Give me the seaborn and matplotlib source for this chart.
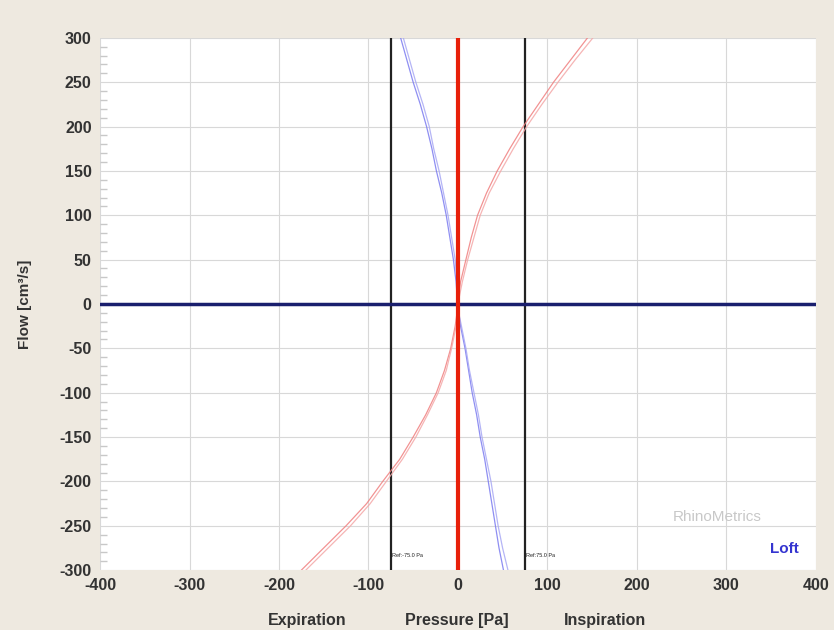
import matplotlib
matplotlib.use("Agg")
import matplotlib.pyplot as plt
import seaborn as sns
import pandas as pd
from matplotlib.ticker import MultipleLocator

sns.set_theme(style="white")
plt.rcParams['font.family'] = ['Liberation Sans', 'DejaVu Sans']

# Flow values (cm3/s)
flow = [-300, -275, -250, -225, -200, -175, -150, -125, -100, -75, -50, -25, -10, 0,
        10, 25, 50, 75, 100, 125, 150, 175, 200, 225, 250, 275, 300]
# Red curve (two traces)
red_a = [-175, -150, -125, -102, -84, -65, -50, -36, -24, -15, -8, -3, -1, 0,
         1, 3, 9, 15, 22, 32, 44, 58, 73, 90, 107, 126, 145]
red_b = [-170, -145, -120, -98, -80, -62, -47, -34, -22, -13, -7, -2, 0, 0,
         2, 5, 11, 18, 25, 35, 48, 62, 77, 94, 112, 131, 151]
# Blue curve (two traces)
blue_a = [51, 46, 42, 38, 34, 30, 25, 21, 16, 12, 8, 3, 1, 0,
          -1, -2, -5, -9, -13, -18, -24, -29, -35, -42, -50, -57, -64]
blue_b = [56, 50, 45, 41, 37, 32, 27, 23, 18, 13, 9, 4, 1, 0,
          0, -1, -3, -7, -11, -16, -21, -27, -32, -39, -47, -54, -61]

ref_lines = [-75, 75]
ref_labels = ["Ref:-75.0 Pa", "Ref:75.0 Pa"]
xticks = [-400, -300, -200, -100, 0, 100, 200, 300, 400]
yticks = list(range(-300, 301, 50))

df = pd.DataFrame({"flow": flow, "red_a": red_a, "red_b": red_b,
                   "blue_a": blue_a, "blue_b": blue_b})

fig = plt.figure(figsize=(8.34, 6.3), dpi=100, facecolor="#EEE9E0")
ax = fig.add_axes([0.120, 0.095, 0.858, 0.845])
ax.set_facecolor("white")

ax.set_xlim(-400, 400)
ax.set_ylim(-300, 300)
ax.xaxis.set_major_locator(MultipleLocator(50))
ax.yaxis.set_major_locator(MultipleLocator(50))
ax.grid(True, color="#D8D8D8", lw=0.8)
ax.set_axisbelow(True)

# reference lines
for xv in ref_lines:
    ax.axvline(xv, color="#222222", lw=1.6, zorder=2)
ax.axhline(0, color="#1A1F6E", lw=2.5, zorder=3)

# curves
sns.lineplot(data=df, x="red_a", y="flow", sort=False, estimator=None, ax=ax,
             color="#F08080", lw=0.9, alpha=0.85, zorder=4)
sns.lineplot(data=df, x="red_b", y="flow", sort=False, estimator=None, ax=ax,
             color="#F4A8A8", lw=0.9, alpha=0.85, zorder=4)
sns.lineplot(data=df, x="blue_a", y="flow", sort=False, estimator=None, ax=ax,
             color="#7B7BF0", lw=0.9, alpha=0.85, zorder=4)
sns.lineplot(data=df, x="blue_b", y="flow", sort=False, estimator=None, ax=ax,
             color="#A8A8F4", lw=0.9, alpha=0.85, zorder=4)

ax.axvline(0, color="#E8200A", lw=3, zorder=5)

for xv, lab in zip(ref_lines, ref_labels):
    ax.text(xv + 1, -283, lab, fontsize=4, color="#222222", va="center", ha="left", zorder=6)

ax.text(290, -240, "RhinoMetrics", fontsize=11, color="#C8C8C8", ha="center", va="center")
ax.text(365, -276, "Loft", fontsize=11, color="#3535D0", fontweight="bold", ha="center", va="center")

for s in ax.spines.values():
    s.set_visible(False)

ax.set_xticks(xticks)
ax.set_yticks(yticks)
ax.set_xticklabels([str(v) for v in xticks], fontsize=11.5, fontweight="bold", color="#333333")
ax.set_yticklabels([str(v) for v in yticks], fontsize=11.5, fontweight="bold", color="#333333")
ax.tick_params(axis="both", length=0, pad=6)
ax.yaxis.set_minor_locator(MultipleLocator(10))
ax.tick_params(axis="y", which="minor", direction="in", length=5, color="#C8C8C8", left=True)
ax.set_xlabel("")
ax.set_ylabel("Flow [cm³/s]", fontsize=11, fontweight="bold", color="#333333", labelpad=20)

fig.text(307 / 834, 1 - 620 / 630, "Expiration", fontsize=11.5, fontweight="bold", color="#333333", ha="center", va="center")
fig.text(457 / 834, 1 - 620 / 630, "Pressure [Pa]", fontsize=11.5, fontweight="bold", color="#333333", ha="center", va="center")
fig.text(605 / 834, 1 - 620 / 630, "Inspiration", fontsize=11.5, fontweight="bold", color="#333333", ha="center", va="center")

fig.savefig("out.png", dpi=100, facecolor=fig.get_facecolor())
